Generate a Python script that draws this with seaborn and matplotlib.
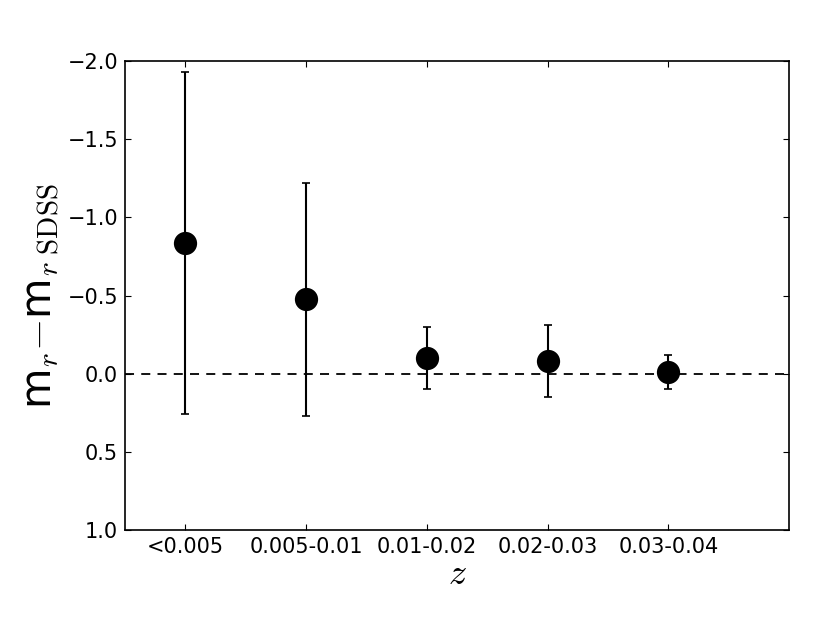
import matplotlib
matplotlib.use("Agg")
import matplotlib.pyplot as plt
import seaborn as sns
import pandas as pd
import numpy as np

categories = ["<0.005", "0.005-0.01", "0.01-0.02", "0.02-0.03", "0.03-0.04"]
positions = [1, 2, 3, 4, 5]
delta_m = [-0.837, -0.478, -0.102, -0.081, -0.010]
errors = [1.092, 0.745, 0.200, 0.232, 0.110]
y_ticks = [-2.0, -1.5, -1.0, -0.5, 0.0, 0.5, 1.0]

sns.set_style("ticks")
plt.rcParams["mathtext.fontset"] = "cm"
plt.rcParams["font.family"] = ["DejaVu Sans"]
plt.rcParams["text.color"] = "black"
plt.rcParams["axes.labelcolor"] = "black"
plt.rcParams["xtick.color"] = "black"
plt.rcParams["ytick.color"] = "black"

df = pd.DataFrame({"pos": positions, "dm": delta_m, "err": errors})

fig = plt.figure(figsize=(8.3, 6.23), dpi=100)
ax = fig.add_axes([0.1506, 0.149, 0.80, 0.753])

ax.axhline(0.0, color="black", linestyle=(0, (5, 4)), linewidth=1.3, zorder=1)
ax.errorbar(df["pos"], df["dm"], yerr=df["err"], fmt="none", ecolor="black",
            elinewidth=1.5, capsize=3, capthick=1.2, zorder=2)
sns.scatterplot(data=df, x="pos", y="dm", ax=ax, color="black", s=280,
                edgecolor="black", linewidth=0, zorder=3, legend=False)

ax.set_xlim(0.5, 6.0)
ax.set_ylim(1.0, -2.0)
ax.set_xticks(positions)
ax.set_xticklabels(categories)
ax.set_yticks(y_ticks)
ax.set_yticklabels([f"{t:.1f}".replace("-", "\u2212") for t in y_ticks])
ax.tick_params(direction="in", length=4, width=0.8, labelsize=15,
               top=True, right=True, pad=5, colors="black")
for s in ax.spines.values():
    s.set_linewidth(1.2)
    s.set_color("black")

ax.set_xlabel(r"$z$", fontsize=26, labelpad=0)
ax.set_ylabel(r"m$_r$$-$m$_{r\ \mathrm{SDSS}}$", fontsize=30, labelpad=4)

fig.savefig("out.png", dpi=100, facecolor="white")
